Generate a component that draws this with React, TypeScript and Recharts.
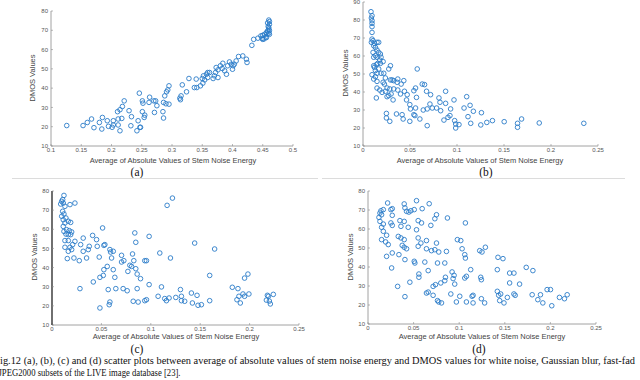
import React from 'react';
import { ScatterChart, Scatter, XAxis, YAxis } from 'recharts';

// ---- data ----
const panelA: [number, number][] = [
  [0.126,20.6],[0.153,20.6],[0.160,22.2],[0.167,24.0],[0.171,19.5],[0.180,22.2],[0.185,24.8],[0.184,18.8],[0.193,23.1],[0.195,20.2],
  [0.203,23.1],[0.203,20.9],[0.201,19.7],[0.211,20.9],[0.214,17.9],[0.211,24.0],[0.210,27.8],[0.214,28.8],[0.218,30.5],[0.221,33.4],
  [0.217,24.3],[0.229,28.3],[0.232,20.5],[0.233,25.2],[0.244,23.1],[0.242,17.9],[0.247,19.7],[0.248,19.7],[0.246,37.4],[0.251,33.4],
  [0.252,32.2],[0.251,27.8],[0.255,26.0],[0.254,24.8],[0.263,35.3],[0.262,32.6],[0.270,33.4],[0.271,27.4],[0.275,30.9],[0.273,33.4],
  [0.285,27.8],[0.286,32.6],[0.288,36.0],[0.291,38.1],[0.293,39.1],[0.295,41.2],[0.286,24.5],[0.290,31.9],[0.295,31.7],[0.313,34.8],
  [0.314,34.0],[0.315,36.0],[0.317,41.7],[0.324,38.1],[0.328,45.0],[0.337,40.3],[0.341,40.3],[0.347,41.2],[0.351,42.6],[0.350,45.0],
  [0.352,46.4],[0.357,47.2],[0.359,48.1],[0.362,48.1],[0.359,45.5],[0.368,45.0],[0.372,48.1],[0.373,50.7],[0.376,49.5],[0.380,51.6],
  [0.383,50.2],[0.387,49.0],[0.390,47.2],[0.392,51.6],[0.395,53.6],[0.398,52.4],[0.401,51.6],[0.400,49.8],[0.403,52.4],[0.406,54.1],
  [0.410,56.4],[0.417,56.7],[0.423,55.0],[0.424,53.3],[0.384,52.9],[0.370,46.4],[0.376,45.5],[0.340,44.7],[0.354,44.3],[0.432,62.2],
  [0.435,65.3],[0.442,65.9],[0.447,67.1],[0.450,65.3],[0.453,67.9],[0.456,68.8],[0.458,69.7],[0.460,71.4],[0.461,73.1],[0.460,75.3],
  [0.461,67.9],[0.456,66.2],[0.450,67.4],[0.459,72.0],[0.460,70.5],[0.458,73.8],[0.461,69.8],[0.455,66.5],[0.452,65.5],[0.449,65.8],
  [0.457,68.0],[0.461,74.5],[0.460,68.5],
];

const panelB: [number, number][] = [
  [0.0085,84.6],[0.0096,82.4],[0.0089,81.1],[0.0096,79.6],[0.0096,78.1],[0.0096,76.3],[0.0096,73.1],[0.0096,69.4],[0.0107,68.5],[0.0089,67.6],
  [0.0121,67.0],[0.0149,67.6],[0.0167,67.6],[0.0114,65.7],[0.0132,64.8],[0.0149,63.3],[0.0107,62.0],[0.0167,62.0],[0.0185,61.1],[0.0132,60.2],
  [0.0114,59.3],[0.0149,59.3],[0.0192,59.3],[0.0178,57.8],[0.0214,56.9],[0.0157,55.9],[0.0185,55.9],[0.0142,55.2],[0.0114,54.6],[0.0292,54.6],
  [0.0121,53.7],[0.0167,52.8],[0.0274,52.8],[0.0132,51.9],[0.0192,50.4],[0.0149,50.4],[0.0221,50.4],[0.0096,49.6],[0.0132,48.5],[0.0238,47.8],
  [0.0292,46.7],[0.0310,46.7],[0.0370,47.2],[0.0434,46.3],[0.0114,47.2],[0.0149,45.9],[0.0214,45.4],[0.0228,44.4],[0.0327,46.3],[0.0363,45.4],
  [0.0406,44.4],[0.0577,52.8],[0.0149,42.2],[0.0178,41.1],[0.0256,42.2],[0.0285,41.7],[0.0327,41.7],[0.0370,41.1],[0.0203,39.8],[0.0238,40.4],
  [0.0299,38.9],[0.0274,38.0],[0.0256,37.4],[0.0142,36.7],[0.0320,35.6],[0.0399,38.9],[0.0441,40.4],[0.0470,38.5],[0.0463,35.6],[0.0498,33.0],
  [0.0505,30.6],[0.0541,40.7],[0.0559,42.2],[0.0569,37.0],[0.0559,31.1],[0.0541,27.4],[0.0552,26.9],[0.0630,44.4],[0.0655,44.1],[0.0676,40.4],
  [0.0719,38.5],[0.0712,33.3],[0.0641,30.0],[0.0683,30.6],[0.0737,31.1],[0.0783,31.1],[0.0826,29.6],[0.0808,36.7],[0.0819,34.3],[0.0879,40.4],
  [0.0879,33.7],[0.0932,30.6],[0.0968,35.6],[0.0925,26.9],[0.0904,25.9],[0.0861,24.4],[0.0975,24.1],[0.0986,22.2],[0.1021,21.9],[0.0986,20.0],
  [0.0683,21.3],[0.0605,25.0],[0.0498,23.7],[0.0416,27.4],[0.0427,25.0],[0.0356,27.8],[0.0249,28.1],[0.0249,25.6],[0.0285,23.7],[0.1075,31.1],
  [0.1103,37.4],[0.1139,32.6],[0.1174,29.3],[0.1117,26.3],[0.1146,22.6],[0.1260,28.5],[0.1253,21.7],[0.1317,23.1],[0.1377,24.1],[0.1502,23.5],
  [0.1644,22.6],[0.1644,20.4],[0.1687,25.0],[0.1875,22.8],[0.2349,22.6],
];

const panelC: [number, number][] = [
  [0.0121,77.7],[0.0108,75.5],[0.0098,74.6],[0.0114,73.7],[0.0088,73.2],[0.0232,73.7],[0.0182,72.9],[0.0131,72.0],[0.1219,76.3],[0.1165,72.5],
  [0.0108,69.4],[0.0121,68.0],[0.0098,66.8],[0.0141,65.9],[0.0114,65.0],[0.0165,64.2],[0.0131,63.3],[0.0189,63.6],[0.0114,61.5],[0.0148,59.8],
  [0.0121,58.9],[0.0175,59.3],[0.0199,58.6],[0.0512,60.7],[0.0141,57.5],[0.0165,57.2],[0.0189,57.2],[0.0131,54.1],[0.0165,54.1],[0.0411,56.8],
  [0.0316,55.4],[0.0451,54.6],[0.0838,58.1],[0.0983,56.3],[0.0848,53.2],[0.1444,52.8],[0.1646,49.7],[0.0232,53.7],[0.0209,52.0],[0.0182,50.6],
  [0.0131,50.6],[0.0199,49.4],[0.0165,48.5],[0.0290,52.0],[0.0377,51.1],[0.0367,49.4],[0.0316,48.5],[0.0458,51.1],[0.0535,52.0],[0.0525,51.6],
  [0.0586,49.4],[0.0593,48.1],[0.0620,48.5],[0.0155,44.7],[0.0222,45.0],[0.0276,43.6],[0.0350,45.0],[0.0478,45.5],[0.0603,45.0],[0.0815,47.1],
  [0.0704,46.4],[0.0727,43.6],[0.0828,43.6],[0.0939,43.6],[0.0956,43.6],[0.0704,42.9],[0.1091,47.6],[0.1199,45.0],[0.0559,40.6],[0.0525,38.9],
  [0.0620,38.9],[0.0805,40.6],[0.0788,41.2],[0.0768,38.0],[0.0848,39.4],[0.0862,36.6],[0.0519,35.9],[0.0636,34.9],[0.0896,34.2],[0.0485,34.9],
  [0.0418,32.5],[0.0983,31.1],[0.1596,35.9],[0.1983,36.6],[0.1949,34.5],[0.0283,29.0],[0.0569,28.5],[0.0646,29.0],[0.0720,29.0],[0.0761,27.9],
  [0.0862,29.0],[0.1108,29.9],[0.1300,28.5],[0.1825,29.7],[0.1882,29.0],[0.1933,26.2],[0.1892,25.0],[0.1949,25.0],[0.1993,26.2],[0.1074,25.0],
  [0.1185,24.1],[0.1253,24.4],[0.1310,25.0],[0.1411,26.7],[0.1468,25.5],[0.1310,22.7],[0.1343,22.4],[0.1158,22.7],[0.1141,23.8],[0.0956,23.2],
  [0.0939,22.7],[0.0822,22.4],[0.0872,22.0],[0.0586,22.0],[0.0579,20.6],[0.0485,18.9],[0.1421,21.5],[0.1478,20.3],[0.1512,20.6],[0.1596,22.7],
  [0.1872,23.2],[0.1906,21.5],[0.2180,25.5],[0.2170,23.0],[0.2210,21.0],[0.2240,26.0],[0.2190,25.0],[0.2200,22.5],
];

const panelD: [number, number][] = [
  [0.0215,73.7],[0.0397,73.2],[0.0532,74.9],[0.0671,73.3],[0.0142,69.6],[0.0168,70.2],[0.0251,70.2],[0.0266,70.7],[0.0405,71.1],[0.0423,69.3],
  [0.0470,69.6],[0.0507,70.2],[0.0594,70.7],[0.0131,68.4],[0.0120,66.1],[0.0149,67.5],[0.0266,67.2],[0.0448,68.9],[0.0751,67.5],[0.0733,65.4],
  [0.0871,65.8],[0.0131,64.0],[0.0168,62.6],[0.0266,61.9],[0.0350,64.4],[0.0397,64.0],[0.0550,64.4],[0.0587,63.2],[0.1068,63.2],[0.0251,63.2],
  [0.0361,61.4],[0.0441,60.9],[0.0532,59.6],[0.0689,61.9],[0.0149,60.9],[0.0168,58.8],[0.0204,56.7],[0.0332,56.1],[0.0361,55.3],[0.0397,54.4],
  [0.0550,55.3],[0.0149,54.4],[0.0193,53.2],[0.0222,51.8],[0.0375,51.4],[0.0397,50.4],[0.0423,49.6],[0.0550,50.9],[0.0580,52.6],[0.0641,53.9],
  [0.0751,52.6],[0.0980,54.4],[0.1017,53.9],[0.0696,48.6],[0.0733,49.1],[0.0776,47.9],[0.0860,48.2],[0.0641,49.6],[0.0204,45.6],[0.0266,47.4],
  [0.0339,46.5],[0.0405,43.9],[0.0507,43.0],[0.0514,42.1],[0.0623,42.6],[0.0762,42.1],[0.0842,42.1],[0.1032,49.6],[0.1061,46.5],[0.1068,44.7],
  [0.1225,48.6],[0.1250,47.9],[0.1287,50.4],[0.1425,45.1],[0.1480,44.4],[0.0259,39.5],[0.0660,38.1],[0.0922,37.4],[0.0944,35.6],[0.1126,38.6],
  [0.1418,38.6],[0.1553,36.8],[0.1600,36.8],[0.1735,39.8],[0.1808,38.1],[0.0558,36.3],[0.0558,34.6],[0.0849,34.6],[0.0933,33.9],[0.1061,34.2],
  [0.1079,35.1],[0.1236,34.6],[0.1243,33.3],[0.0842,32.8],[0.0951,31.0],[0.0798,31.6],[0.0740,30.7],[0.0714,29.8],[0.0459,32.0],[0.0325,29.8],
  [0.1553,31.6],[0.1662,31.0],[0.1964,28.1],[0.2001,28.1],[0.0660,26.8],[0.0641,26.3],[0.0714,25.1],[0.0908,25.8],[0.1006,24.6],[0.1141,24.6],
  [0.1152,25.1],[0.1243,23.3],[0.1418,27.2],[0.1433,25.1],[0.1455,25.8],[0.1528,24.0],[0.1600,25.8],[0.1614,25.1],[0.1800,25.4],[0.1891,25.4],
  [0.1862,22.8],[0.1917,21.1],[0.2015,19.6],[0.2099,24.0],[0.2154,23.3],[0.2184,25.4],[0.0405,24.4],[0.0762,22.3],[0.0776,21.6],[0.0806,21.1],
  [0.0969,21.6],[0.1079,21.6],[0.1152,21.1],[0.1279,21.1],[0.1444,22.3],[0.1491,21.1],
];

const xTicksA = [0.1, 0.15, 0.2, 0.25, 0.3, 0.35, 0.4, 0.45, 0.5];
const xTicksB = [0, 0.05, 0.1, 0.15, 0.2, 0.25];
const yTicks80 = [10, 20, 30, 40, 50, 60, 70, 80];
const yTicks90 = [10, 20, 30, 40, 50, 60, 70, 80, 90];

const xTitle = 'Average of Absolute Values of Stem Noise Energy';
const yTitle = 'DMOS Values';
const panelLabels = ['(a)', '(b)', '(c)', '(d)'];
const captionLine1 = 'ig.12 (a), (b), (c) and (d) scatter plots between average of absolute values of stem noise energy and DMOS values for white noise, Gaussian blur, fast-fad';
const captionLine2 = 'JPEG2000 subsets of the LIVE image database [23].';

const MARK = '#2a7cc8';
const AXIS = '#8c8c8c';
const TICK_TEXT = '#555';
const SANS = '"Liberation Sans", Arial, sans-serif';
const SERIF = '"Liberation Serif", "Times New Roman", serif';

const Ring = (props: any) => {
  const { cx, cy } = props;
  if (cx == null || cy == null) return null;
  return <circle cx={cx} cy={cy} r={2.3} fill="none" stroke={MARK} strokeWidth={0.9} />;
};

type PanelProps = {
  data: [number, number][];
  left: number; top: number; width: number; height: number;
  margin: { top: number; right: number; bottom: number; left: number };
  yWidth: number;
  xDomain: [number, number]; xTicks: number[];
  yDomain: [number, number]; yTicks: number[];
  yAxisColor?: string; yAxisWidth?: number;
};

const fmt = (v: number) => String(v);

function Panel(p: PanelProps) {
  const rows = p.data.map(([x, y]) => ({ x, y }));
  const tickStyle = { fontSize: 6, fill: TICK_TEXT, fontFamily: SANS };
  return (
    <div style={{ position: 'absolute', left: p.left, top: p.top }}>
      <ScatterChart width={p.width} height={p.height} margin={p.margin}>
        <XAxis
          type="number" dataKey="x" domain={p.xDomain} ticks={p.xTicks} interval={0}
          allowDataOverflow height={20} tickFormatter={fmt}
          stroke={AXIS} tick={tickStyle} tickSize={-2} tickMargin={4}
          axisLine={{ stroke: AXIS, strokeWidth: 0.8 }} tickLine={{ stroke: AXIS, strokeWidth: 0.6 }}
        />
        <YAxis
          type="number" dataKey="y" domain={p.yDomain} ticks={p.yTicks} interval={0}
          allowDataOverflow width={p.yWidth} tickFormatter={fmt}
          stroke={AXIS} tick={tickStyle} tickSize={-2} tickMargin={5}
          axisLine={{ stroke: p.yAxisColor || AXIS, strokeWidth: p.yAxisWidth || 0.8 }}
          tickLine={{ stroke: AXIS, strokeWidth: 0.6 }}
        />
        <Scatter data={rows} shape={<Ring />} isAnimationActive={false} />
      </ScatterChart>
    </div>
  );
}

export default function App() {
  const titleStyle = { fontSize: 7.5, fill: '#444', fontFamily: SANS } as const;
  const ytitle = (x: number, y: number) => (
    <text x={x} y={y} transform={`rotate(-90 ${x} ${y})`} textAnchor="middle" dominantBaseline="central" style={titleStyle}>{yTitle}</text>
  );
  const xtitle = (x: number, y: number) => (
    <text x={x} y={y} textAnchor="middle" dominantBaseline="central" style={titleStyle}>{xTitle}</text>
  );
  const plabel = (x: number, y: number, s: string) => (
    <text x={x} y={y} textAnchor="middle" dominantBaseline="central" style={{ fontSize: 11.5, fill: '#111', fontFamily: SERIF }}>{s}</text>
  );
  return (
    <div style={{ position: 'absolute', left: 0, top: 0, width: 640, height: 380, background: '#fff', overflow: 'hidden' }}>
      <Panel data={panelA} left={0} top={0} width={320} height={180}
        margin={{ top: 11, right: 27, bottom: 14, left: 26 }} yWidth={25}
        xDomain={[0.1, 0.5]} xTicks={xTicksA} yDomain={[10, 80]} yTicks={yTicks80} />
      <Panel data={panelB} left={320} top={0} width={320} height={180}
        margin={{ top: 2, right: 42, bottom: 14, left: 23 }} yWidth={20}
        xDomain={[0, 0.25]} xTicks={xTicksB} yDomain={[10, 90]} yTicks={yTicks90} />
      <Panel data={panelC} left={0} top={180} width={320} height={170}
        margin={{ top: 11, right: 21, bottom: 5, left: 27 }} yWidth={25}
        xDomain={[0, 0.25]} xTicks={xTicksB} yDomain={[10, 80]} yTicks={yTicks80}
        yAxisColor="#333" yAxisWidth={1.4} />
      <Panel data={panelD} left={320} top={180} width={320} height={170}
        margin={{ top: 11, right: 44, bottom: 6, left: 23 }} yWidth={25}
        xDomain={[0, 0.25]} xTicks={xTicksB} yDomain={[10, 80]} yTicks={yTicks80} />
      <svg width={640} height={380} style={{ position: 'absolute', left: 0, top: 0, pointerEvents: 'none' }}>
        {ytitle(32, 78)}
        {ytitle(345, 73)}
        {ytitle(34, 257)}
        {ytitle(350, 257)}
        {xtitle(173, 160)}
        {xtitle(480, 160)}
        {xtitle(176, 336)}
        {xtitle(482, 336)}
        {plabel(137, 172, panelLabels[0])}
        {plabel(486, 172, panelLabels[1])}
        {plabel(137, 349, panelLabels[2])}
        {plabel(479, 349, panelLabels[3])}
        <line x1={12} y1={178.5} x2={318} y2={178.5} stroke="#dcdcdc" strokeWidth={1} />
        <line x1={322} y1={178.5} x2={625} y2={178.5} stroke="#dcdcdc" strokeWidth={1} />
        <text x={0} y={364} textLength={635} lengthAdjust="spacingAndGlyphs" style={{ fontSize: 10.5, fill: '#111', fontFamily: SERIF }}>{captionLine1}</text>
        <text x={-1.5} y={376} textLength={182} lengthAdjust="spacingAndGlyphs" style={{ fontSize: 10.5, fill: '#111', fontFamily: SERIF }}>{captionLine2}</text>
      </svg>
    </div>
  );
}
